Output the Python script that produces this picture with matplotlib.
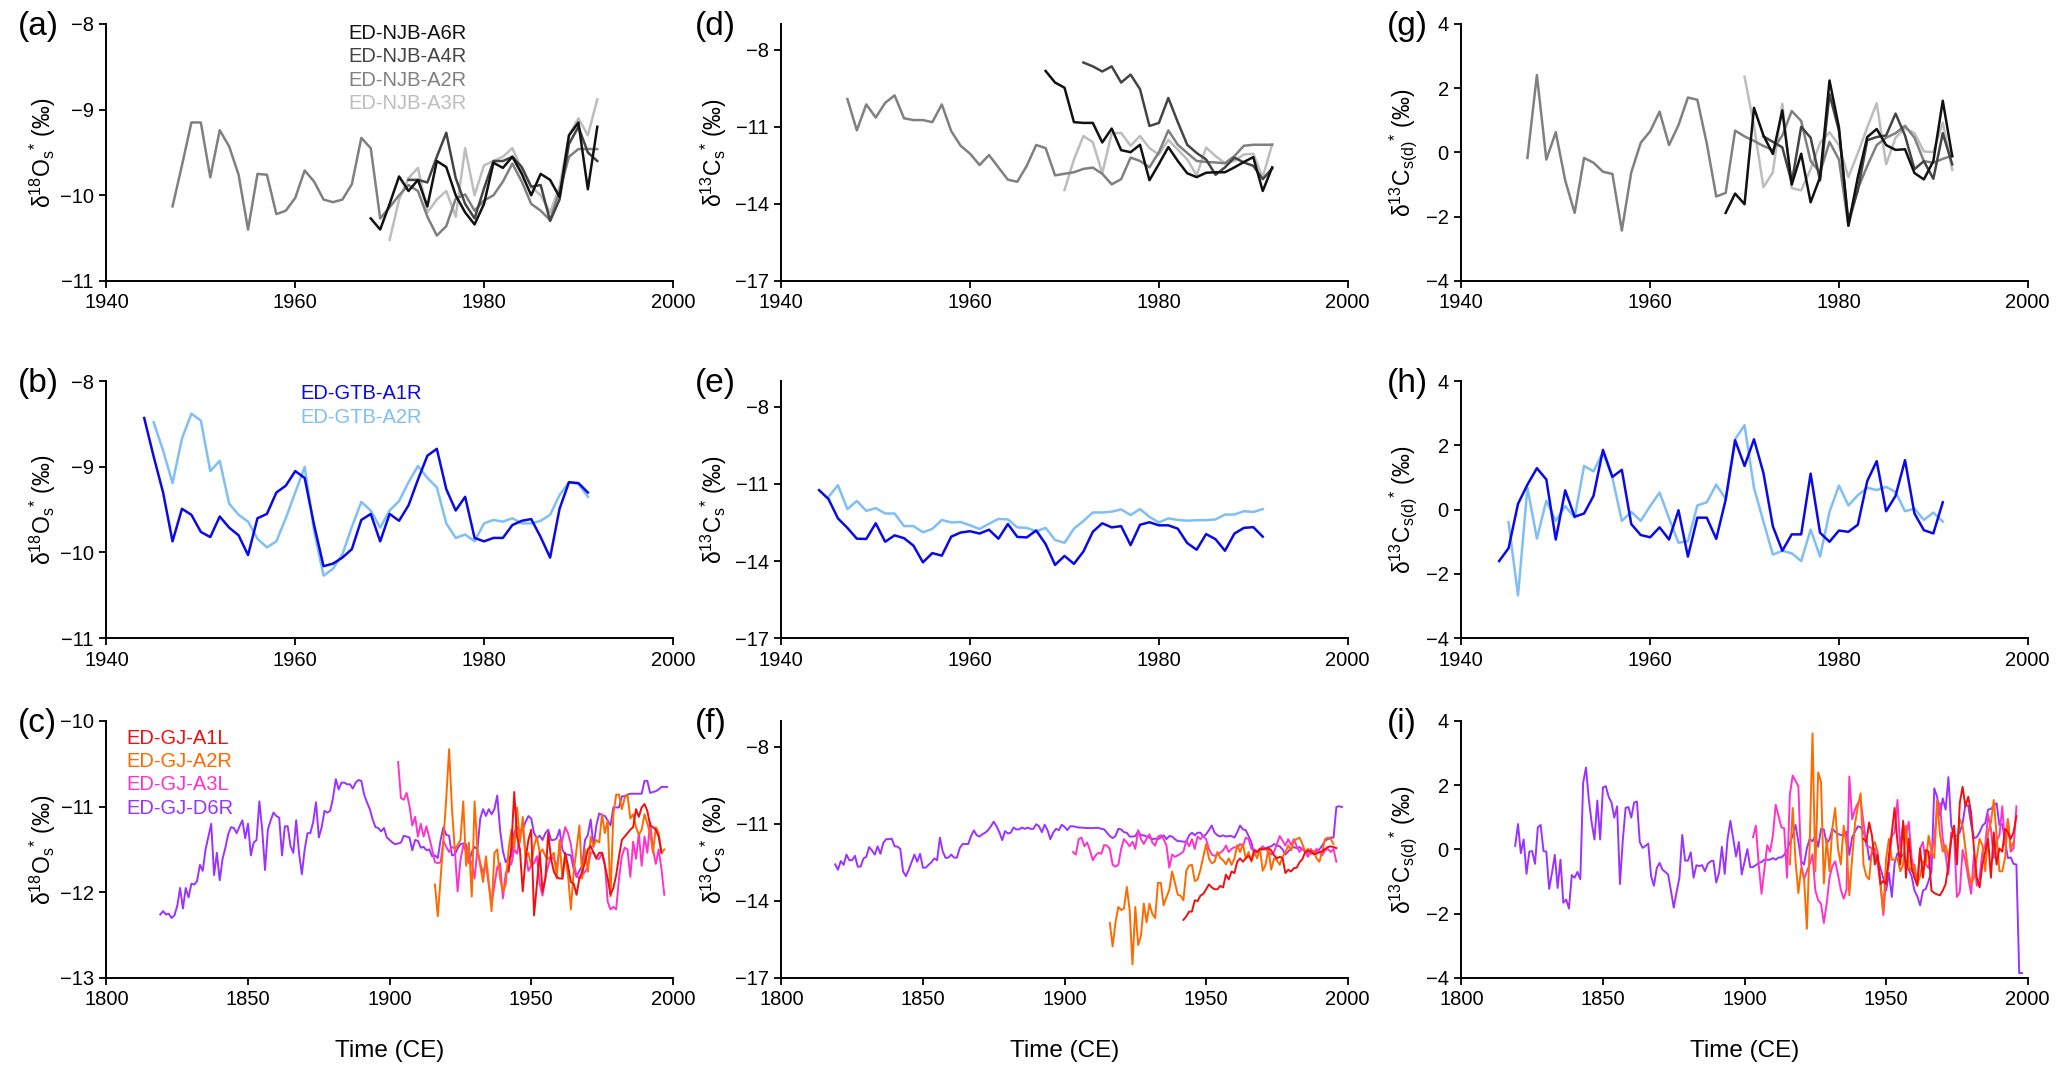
import numpy as np
import matplotlib
matplotlib.use("Agg")
import matplotlib.pyplot as plt

plt.rcParams.update({
    "font.family": ["Liberation Sans", "DejaVu Sans"],
    "mathtext.fontset": "custom",
    "mathtext.rm": "Liberation Sans",
    "mathtext.it": "Liberation Sans:italic",
    "mathtext.bf": "Liberation Sans:bold",
})

# ---- NJB site (row 1), annual values, first year given separately ----
njb_a6r_start, njb_a4r_start, njb_a2r_start, njb_a3r_start = 1968, 1972, 1947, 1970

njb_a2r_o18 = [-10.13, -9.65, -9.15, -9.15, -9.79, -9.24, -9.43, -9.76, -10.40, -9.75,
               -9.76, -10.22, -10.18, -10.03, -9.71, -9.84, -10.05, -10.08, -10.05, -9.87,
               -9.33, -9.45, -10.27, -10.14, -10.0, -9.88, -9.95, -10.25, -10.47, -10.36,
               -10.04, -9.99, -10.18, -10.06, -10.0, -9.84, -9.63, -9.84, -10.10, -10.18,
               -10.29, -9.95, -9.55, -9.46, -9.46, -9.46]
njb_a6r_o18 = [-10.27, -10.40, -10.1, -9.78, -9.95, -9.82, -10.13, -9.6, -9.67, -10.0,
               -10.2, -10.34, -10.1, -9.62, -9.68, -9.55, -9.75, -10.0, -9.75, -9.82,
               -10.02, -9.3, -9.15, -9.93, -9.2]
njb_a4r_o18 = [-9.82, -9.82, -9.85, -9.55, -9.27, -9.8, -10.1, -10.27, -9.92, -9.6,
               -9.6, -9.55, -9.67, -9.9, -9.88, -10.3, -10.05, -9.4, -9.2, -9.5, -9.6]
njb_a3r_o18 = [-10.52, -10.05, -9.8, -9.68, -10.2, -10.05, -9.95, -10.25, -9.45, -10.0,
               -9.65, -9.6, -9.55, -9.45, -9.7, -9.9, -10.0, -10.2, -9.9, -9.3,
               -9.1, -9.3, -8.88]

njb_a2r_c13 = [-9.92, -11.14, -10.13, -10.64, -10.07, -9.78, -10.67, -10.74, -10.74, -10.82,
               -10.13, -11.17, -11.74, -12.05, -12.49, -12.10, -12.58, -13.06, -13.14, -12.52,
               -11.71, -11.83, -12.89, -12.83, -12.77, -12.64, -12.59, -12.83, -13.24, -13.04,
               -12.20, -12.33, -12.58, -11.99, -11.14, -11.70, -12.02, -12.33, -12.37, -12.39,
               -12.42, -12.14, -11.74, -11.70, -11.70, -11.70]
njb_a3r_c13 = [-13.46, -12.27, -11.36, -11.60, -12.81, -11.26, -11.24, -11.74, -11.36, -11.83,
               -12.08, -11.51, -11.89, -12.27, -12.89, -11.81, -12.14, -12.42, -12.33, -12.08,
               -12.05, -12.96, -11.68]
njb_a6r_c13 = [-8.83, -9.28, -9.48, -10.82, -10.85, -10.85, -11.61, -11.07, -11.91, -11.99,
               -11.70, -13.08, -12.45, -11.79, -12.33, -12.81, -12.96, -12.79, -12.77, -12.77,
               -12.58, -12.37, -12.18, -13.50, -12.58]
njb_a4r_c13 = [-8.50, -8.65, -8.85, -8.65, -9.28, -8.97, -9.54, -10.97, -10.85, -9.88,
               -10.82, -11.70, -12.02, -12.27, -12.87, -12.58, -12.20, -12.39, -12.52, -13.04,
               -12.62]

njb_a2r_c13d = [-0.17, 2.41, -0.22, 0.63, -0.87, -1.88, -0.17, -0.32, -0.60, -0.67,
                -2.43, -0.62, 0.30, 0.66, 1.27, 0.23, 0.85, 1.71, 1.64, 0.28,
                -1.37, -1.26, 0.68, 0.50, 0.36, 0.20, 0.08, 0.53, 1.29, 0.98,
                -0.27, -0.62, 0.33, -0.22, -2.28, -1.13, -0.42, 0.23, 0.46, 0.60,
                0.83, 0.46, -0.27, -0.32, -0.20, -0.10]
njb_a3r_c13d = [2.36, 0.83, -1.08, -0.62, 1.51, -1.11, -1.18, -0.52, 0.30, 0.63,
                0.23, -0.77, -0.02, 0.78, 1.53, -0.37, 0.46, 0.76, 0.60, 0.03,
                0.01, 0.93, -0.54]
njb_a6r_c13d = [-1.88, -1.28, -1.61, 1.39, 0.53, -0.05, 1.31, -1.0, -0.04, -1.55,
                -0.77, 2.24, 0.78, -2.28, -0.77, 0.48, 0.73, 0.23, 0.08, 0.10,
                -0.64, -0.84, -0.27, 1.61, -0.12]
njb_a4r_c13d = [0.50, 0.33, 0.16, -0.94, 0.80, 0.46, -0.87, 1.81, 0.68, -2.13,
                -1.18, 0.38, 0.48, 0.53, 1.21, 0.53, -0.52, -0.27, -0.82, 0.60, -0.37]

# ---- GTB site (row 2) ----
gtb_a1r_start, gtb_a2r_start = 1944, 1945

gtb_a1r_o18 = [-8.43, -8.88, -9.30, -9.87, -9.49, -9.56, -9.76, -9.82, -9.58, -9.71,
               -9.80, -10.03, -9.60, -9.55, -9.30, -9.22, -9.05, -9.13, -9.68, -10.16,
               -10.13, -10.06, -9.96, -9.62, -9.55, -9.87, -9.55, -9.63, -9.45, -9.15,
               -8.87, -8.79, -9.26, -9.51, -9.35, -9.83, -9.87, -9.83, -9.83, -9.68,
               -9.63, -9.61, -9.82, -10.06, -9.49, -9.18, -9.19, -9.30]
gtb_a2r_o18 = [-8.48, -8.81, -9.19, -8.67, -8.38, -8.46, -9.05, -8.93, -9.43, -9.56,
               -9.64, -9.84, -9.94, -9.87, -9.60, -9.30, -9.0, -9.75, -10.27, -10.19,
               -10.02, -9.70, -9.41, -9.51, -9.71, -9.51, -9.40, -9.18, -8.99, -9.13,
               -9.24, -9.66, -9.83, -9.79, -9.87, -9.66, -9.62, -9.64, -9.60, -9.66,
               -9.66, -9.63, -9.56, -9.33, -9.18, -9.20, -9.35]

gtb_a1r_c13 = [-11.24, -11.59, -12.34, -12.71, -13.13, -13.14, -12.53, -13.25, -13.0, -13.11,
               -13.40, -14.05, -13.69, -13.79, -13.05, -12.89, -12.84, -12.93, -12.78, -13.13,
               -12.56, -13.06, -13.08, -12.81, -13.34, -14.15, -13.80, -14.11, -13.63, -12.86,
               -12.53, -12.69, -12.64, -13.38, -12.59, -12.49, -12.61, -12.61, -12.74, -13.30,
               -13.56, -12.95, -13.15, -13.60, -12.93, -12.71, -12.68, -13.05]
gtb_a2r_c13 = [-11.5, -11.05, -11.98, -11.66, -12.05, -11.94, -12.15, -12.15, -12.64, -12.64,
               -12.88, -12.75, -12.40, -12.50, -12.48, -12.61, -12.75, -12.55, -12.36, -12.38,
               -12.69, -12.71, -12.84, -12.71, -13.18, -13.29, -12.74, -12.44, -12.11, -12.11,
               -12.08, -11.99, -12.21, -11.98, -12.28, -12.50, -12.34, -12.40, -12.43, -12.41,
               -12.41, -12.38, -12.19, -12.19, -12.06, -12.09, -11.98]

gtb_a1r_c13d = [-1.60, -1.20, 0.18, 0.78, 1.29, 0.94, -0.93, 0.60, -0.22, -0.12,
                0.43, 1.86, 1.02, 1.24, -0.45, -0.79, -0.86, -0.55, -0.93, -0.02,
                -1.46, -0.25, -0.25, -0.91, 0.31, 2.16, 1.36, 2.19, 1.14, -0.52,
                -1.28, -0.77, -0.77, 1.12, -0.72, -1.0, -0.65, -0.69, -0.47, 0.89,
                1.51, -0.05, 0.43, 1.54, -0.12, -0.64, -0.74, 0.23]
gtb_a2r_c13d = [-0.39, -2.67, 0.68, -0.90, 0.28, -0.35, 0.11, -0.25, 1.36, 1.19,
                1.79, 0.99, -0.35, -0.07, -0.35, 0.11, 0.53, -0.27, -1.03, -0.98,
                0.13, 0.23, 0.78, 0.33, 2.19, 2.63, 0.68, -0.37, -1.40, -1.28,
                -1.36, -1.60, -0.62, -1.46, -0.07, 0.75, 0.13, 0.45, 0.68, 0.61,
                0.71, 0.55, -0.05, 0.03, -0.32, -0.09, -0.37]

# ---- GJ site (row 3) ----
gj_a1l_start, gj_a2r_start, gj_a3l_start, gj_d6r_start = 1942, 1916, 1903, 1819

gj_d6r_o18 = [-12.26, -12.22, -12.26, -12.25, -12.30, -12.27, -12.16, -11.95, -12.19, -11.95,
              -12.06, -11.90, -11.91, -11.87, -11.68, -11.75, -11.50, -11.35, -11.20, -11.80,
              -11.54, -11.86, -11.61, -11.48, -11.32, -11.24, -11.25, -11.31, -11.23, -11.16,
              -11.37, -11.20, -11.57, -11.42, -11.39, -10.94, -11.27, -11.74, -11.27, -11.16,
              -11.07, -11.11, -11.13, -11.57, -11.23, -11.23, -11.46, -11.54, -11.16, -11.54,
              -11.79, -11.50, -11.31, -11.31, -11.18, -10.95, -11.36, -11.24, -11.05, -11.07,
              -11.05, -10.90, -10.68, -10.80, -10.72, -10.72, -10.74, -10.74, -10.79, -10.72,
              -10.69, -10.70, -10.86, -10.95, -11.03, -11.15, -11.24, -11.25, -11.29, -11.25,
              -11.36, -11.39, -11.42, -11.44, -11.43, -11.42, -11.34, -11.35, -11.36, -11.51,
              -11.39, -11.40, -11.48, -11.47, -11.51, -11.50, -11.58, -11.57, -11.60, -11.39,
              -11.24, -11.33, -11.34, -11.57, -11.56, -11.49, -11.44, -11.43, -11.44, -11.66,
              -11.53, -11.47, -11.50, -11.14, -11.03, -11.11, -11.03, -11.09, -11.03, -10.87,
              -11.27, -11.52, -11.65, -11.60, -11.58, -11.30, -11.24, -11.28, -11.27, -11.18,
              -11.11, -11.14, -11.31, -11.37, -11.34, -11.39, -11.31, -11.27, -11.39, -11.39,
              -11.37, -11.27, -11.50, -11.56, -11.56, -11.57, -11.73, -11.82, -11.75, -11.69,
              -11.39, -11.33, -11.15, -11.47, -11.22, -11.08, -11.10, -11.11, -11.16, -11.22,
              -11.01, -11.01, -11.01, -10.88, -10.88, -10.86, -10.85, -10.85, -10.85, -10.85,
              -10.85, -10.70, -10.70, -10.84, -10.83, -10.82, -10.80, -10.77, -10.77, -10.77]
gj_a3l_o18 = [-10.48, -10.90, -10.92, -10.84, -10.99, -11.22, -11.12, -11.35, -11.20, -11.35,
              -11.23, -11.36, -11.50, -11.65, -11.66, -11.65, -11.40, -11.47, -11.53, -11.47,
              -11.49, -11.99, -11.63, -11.45, -11.52, -11.66, -11.64, -11.84, -11.50, -11.66,
              -11.77, -11.67, -11.91, -12.14, -11.92, -11.71, -11.66, -12.07, -11.78, -11.69,
              -11.67, -11.50, -11.55, -11.31, -11.24, -11.54, -11.75, -11.69, -11.66, -11.58,
              -11.90, -12.04, -11.82, -11.69, -11.58, -11.61, -11.70, -11.52, -11.39, -11.24,
              -11.31, -11.44, -11.66, -11.80, -11.84, -11.80, -11.76, -11.71, -11.54, -11.53,
              -11.61, -11.61, -11.54, -11.66, -12.11, -12.20, -12.17, -12.20, -11.84, -11.58,
              -11.48, -11.50, -11.82, -11.41, -11.61, -11.31, -11.69, -11.35, -11.54, -11.18,
              -11.50, -11.67, -11.50, -11.73, -12.03]
gj_a2r_o18 = [-11.91, -12.28, -11.84, -11.39, -10.90, -10.33, -11.02, -11.50, -11.45, -11.39,
              -10.94, -11.69, -11.42, -12.05, -10.94, -11.50, -11.69, -11.88, -11.58, -11.88,
              -12.22, -11.54, -11.50, -11.84, -11.99, -11.91, -11.50, -11.27, -11.50, -11.01,
              -11.42, -11.12, -11.61, -11.54, -11.69, -11.46, -11.35, -11.54, -11.50, -11.58,
              -11.61, -11.58, -11.54, -11.84, -11.39, -11.84, -11.58, -11.80, -12.20, -11.76,
              -11.50, -11.22, -11.84, -11.50, -11.76, -11.35, -11.46, -11.39, -11.42, -11.09,
              -11.31, -11.16, -12.05, -11.09, -10.86, -10.86, -11.03, -10.90, -10.86, -11.14,
              -11.09, -11.24, -11.33, -11.27, -11.09, -11.20, -11.31, -11.54, -11.24, -11.31,
              -11.54, -11.50]
gj_a1l_o18 = [-11.76, -11.46, -10.83, -11.35, -11.50, -11.99, -11.61, -11.39, -11.27, -12.27,
              -11.91, -11.54, -11.99, -11.84, -11.31, -11.61, -11.76, -11.82, -11.84, -11.84,
              -11.54, -11.69, -11.88, -11.90, -12.03, -11.84, -11.76, -11.65, -11.50, -11.46,
              -11.54, -11.60, -11.54, -11.54, -11.69, -11.84, -12.03, -11.95, -11.80, -11.58,
              -11.39, -11.35, -11.31, -11.27, -11.24, -11.03, -11.12, -11.01, -10.97, -11.05,
              -11.22, -11.24, -11.27, -11.35, -11.54]

gj_d6r_c13 = [-12.58, -12.79, -12.45, -12.60, -12.20, -12.42, -12.42, -12.25, -12.67, -12.67,
              -12.35, -12.29, -11.91, -12.04, -12.20, -11.88, -12.17, -11.75, -11.60, -11.60,
              -11.58, -11.88, -11.89, -11.98, -12.86, -13.04, -12.79, -12.50, -12.20, -12.48,
              -12.17, -12.71, -12.71, -12.60, -12.50, -12.35, -12.42, -11.54, -12.08, -12.33,
              -12.32, -12.20, -12.32, -12.32, -11.95, -11.79, -11.79, -11.79, -11.48, -11.26,
              -11.45, -11.50, -11.41, -11.35, -11.25, -11.10, -10.92, -11.10, -11.33, -11.64,
              -11.29, -11.38, -11.35, -11.15, -11.22, -11.22, -11.15, -11.20, -11.15, -11.20,
              -11.20, -11.02, -11.10, -11.33, -11.04, -11.25, -11.60, -11.35, -11.20, -11.25,
              -11.04, -11.12, -11.25, -11.10, -11.10, -11.12, -11.15, -11.15, -11.16, -11.17,
              -11.17, -11.17, -11.16, -11.16, -11.20, -11.22, -11.35, -11.48, -11.56, -11.48,
              -11.20, -11.22, -11.33, -11.35, -11.50, -11.50, -11.48, -11.29, -11.45, -11.45,
              -11.50, -11.54, -11.60, -11.58, -11.60, -11.54, -11.45, -11.60, -11.48, -11.50,
              -11.60, -11.68, -11.68, -11.70, -11.70, -11.45, -11.35, -11.45, -11.35, -11.35,
              -11.50, -11.41, -11.25, -11.07, -11.35, -11.45, -11.50, -11.45, -11.50, -11.48,
              -11.48, -11.54, -11.33, -11.07, -11.22, -11.25, -11.48, -11.73, -12.20, -12.08,
              -12.04, -11.98, -11.95, -11.91, -11.88, -11.79, -11.85, -11.88, -12.0, -12.20,
              -12.08, -11.95, -11.91, -11.95, -11.91, -12.0, -12.08, -12.13, -12.17, -12.13,
              -12.08, -12.0, -11.85, -11.66, -11.60, -11.54, -11.54, -10.35, -10.32, -10.35]
gj_a3l_c13 = [-12.10, -12.20, -11.60, -11.54, -11.88, -11.73, -12.04, -12.42, -12.23, -12.13,
              -12.17, -11.83, -11.85, -11.98, -12.60, -12.67, -12.60, -11.98, -11.60, -11.73,
              -11.88, -11.70, -11.98, -11.25, -11.60, -11.79, -11.58, -11.41, -11.73, -11.85,
              -11.50, -11.45, -11.60, -11.85, -12.71, -12.20, -12.29, -12.23, -12.17, -12.08,
              -11.66, -11.88, -11.60, -11.98, -11.50, -11.60, -11.48, -11.60, -11.98, -12.20,
              -12.25, -12.20, -12.13, -12.04, -11.85, -12.10, -11.98, -11.91, -11.95, -11.79,
              -11.88, -11.54, -11.60, -11.98, -12.0, -12.08, -11.98, -11.88, -11.98, -12.08,
              -12.20, -12.10, -11.79, -11.48, -11.66, -11.85, -11.60, -11.83, -11.60, -11.88,
              -12.10, -11.95, -12.08, -12.29, -11.98, -12.20, -11.98, -12.10, -12.23, -12.04,
              -11.98, -12.10, -11.98, -12.48]
gj_a2r_c13 = [-14.86, -15.77, -14.84, -14.24, -14.36, -14.30, -13.46, -14.36, -16.47, -14.24,
              -15.72, -15.37, -14.11, -14.84, -14.11, -14.51, -14.67, -13.30, -13.30, -14.17,
              -13.86, -13.58, -12.86, -13.30, -13.76, -13.80, -13.98, -12.83, -12.63, -12.60,
              -13.23, -13.17, -12.79, -12.29, -11.79, -12.35, -12.54, -12.48, -12.10, -12.33,
              -12.42, -12.58, -12.35, -12.60, -12.35, -11.83, -12.10, -11.79, -12.35, -12.10,
              -12.48, -12.10, -12.35, -11.98, -12.83, -12.60, -11.98, -12.79, -12.35, -12.42,
              -12.60, -12.29, -12.10, -11.85, -12.04, -11.66, -11.60, -11.54, -11.79, -12.10,
              -11.98, -12.17, -12.04, -12.35, -12.48, -12.08, -11.60, -11.54, -11.60, -11.79]
gj_a1l_c13 = [-14.74, -14.61, -14.42, -14.42, -13.98, -14.01, -13.80, -13.73, -13.55, -13.36,
              -13.48, -13.55, -13.55, -13.42, -13.48, -12.98, -13.17, -12.86, -12.92, -12.48,
              -12.35, -12.48, -12.35, -12.25, -12.42, -12.04, -12.10, -11.98, -12.0, -11.98,
              -11.95, -12.04, -12.23, -12.35, -12.29, -12.33, -12.92, -12.79, -12.86, -12.73,
              -12.71, -12.50, -12.38, -12.10, -12.04, -12.08, -12.17, -12.17, -12.10, -12.08,
              -11.98, -11.91, -11.88, -11.91, -11.95]

gj_d6r_c13d = [0.11, 0.79, -0.12, 0.31, -0.76, -0.07, -0.05, -0.45, 0.69, 0.76,
               -0.05, -0.07, -1.23, -0.73, -0.17, -1.20, -0.32, -1.66, -1.56, -1.84,
               -0.80, -0.88, -0.70, -0.93, 2.07, 2.55, 1.56, 0.84, 0.31, 1.52,
               0.31, 1.93, 1.97, 1.64, 1.46, 0.99, 1.34, -1.08, 0.28, 1.29,
               1.32, 0.99, 1.46, 1.49, 0.23, 0.05, 0.11, 0.18, -0.83, -1.13,
               -0.58, -0.42, -0.63, -0.70, -0.78, -1.28, -1.81, -1.33, -0.88, 0.45,
               -0.35, -0.35, -0.09, -0.88, -0.49, -0.52, -0.49, -0.68, -0.45, -0.37,
               -0.35, -1.03, -0.73, 0.08, -0.76, 0.33, 0.89, 0.33, -0.22, 0.23,
               -0.78, -0.39, 0.01, -0.55, -0.55, -0.49, -0.42, -0.39, -0.32, -0.32,
               -0.32, -0.27, -0.32, -0.25, -0.25, -0.17, -0.02, 0.21, 0.43, 0.76,
               0.25, -0.37, -0.47, 0.03, 0.33, 0.25, 0.43, 0.08, 0.64, 0.62,
               0.18, 0.31, 0.64, 0.55, 0.48, 0.45, 0.43, 0.55, -0.17, 0.38,
               0.55, 0.72, 0.69, 0.53, 0.33, -0.32, -0.12, -0.17, -0.32, -0.58,
               -0.90, -1.28, -0.73, -1.48, -0.42, -0.12, -0.27, -0.15, -0.39, -0.63,
               -0.83, -1.28, -1.46, -1.74, -1.28, -1.23, -0.98, -0.68, 1.90, 1.64,
               1.06, 1.59, 1.24, 2.25, 0.74, 0.41, 0.43, 0.53, 0.82, 1.39,
               1.36, 0.79, 0.35, 0.38, 0.53, 0.74, 0.82, 1.24, 1.26, 1.36,
               1.44, 0.76, 0.79, 0.23, -0.27, -0.25, -0.45, -0.47, -3.85, -3.85]
gj_a3l_c13d = [0.38, 0.74, -0.47, -1.38, -0.63, 0.13, -0.07, 0.43, 1.39, 1.04,
               0.69, 0.66, -0.88, 1.70, 2.30, 2.13, 1.97, -0.47, -0.93, -0.68,
               -0.47, -0.15, -1.28, -1.58, -1.69, -2.29, -1.69, -0.88, -0.52, -0.37,
               -0.78, -1.26, -1.53, -1.26, 2.27, 0.94, 1.24, 1.44, 1.52, 0.84,
               0.11, 0.08, 0.03, 0.03, -0.47, -1.08, -2.04, -0.88, -0.47, 0.43,
               0.53, 1.54, 0.03, 0.79, 0.43, 0.86, -0.27, -0.68, -1.08, 0.03,
               0.23, -0.47, -0.58, -0.07, 0.33, 1.24, 1.44, 0.33, -0.17, -0.78,
               0.53, 0.43, -1.48, -1.33, -0.02, -0.37, -0.88, -1.38, -0.17, -1.13,
               -0.88, -0.07, 0.13, 1.09, 0.64, -0.27, 0.28, 0.43, 1.34, 0.13,
               0.94, -0.07, 0.03, 1.34]
gj_a2r_c13d = [-0.47, 1.29, -0.37, -1.36, -0.58, -0.88, -2.47, 0.13, 3.61, -0.68,
               2.40, 2.10, -1.06, 0.33, -0.68, 0.66, 1.29, 0.03, -0.47, 0.74,
               0.13, -1.43, -0.27, 0.79, 1.34, 1.75, -0.47, -0.83, -0.93, 0.03,
               0.23, -0.07, -1.08, -1.94, -0.27, 0.33, -0.32, -0.32, -0.27, -0.68,
               -0.47, 0.74, -0.55, -0.68, -0.47, -1.08, -0.83, -0.37, -0.47, 0.43,
               -0.07, -0.27, 1.54, 0.48, -0.07, 0.13, -0.27, 0.33, 0.53, 0.13,
               0.94, 0.74, 0.03, -0.68, -1.08, -0.88, -0.27, 0.33, 0.13, -0.68,
               0.53, 0.84, 1.54, 0.43, -0.68, -0.68, -0.27, 0.94, 0.03, 0.23]
gj_a1l_c13d = [0.33, 0.23, 0.84, 0.43, -0.47, -0.17, -1.08, -0.98, -1.08, -0.17,
               0.53, 1.29, 0.23, -0.47, 0.89, -0.88, 0.33, -0.58, -0.88, -1.13,
               0.03, -0.88, -0.02, -0.07, -1.28, -1.36, -1.40, -1.43, -1.28, -1.08,
               -0.47, 0.33, 0.74, -0.47, 1.44, 1.95, 1.34, 1.64, 1.14, 0.03,
               -0.88, -1.18, -0.47, -0.07, 0.33, -0.88, 0.53, -0.47, 0.03, -0.07,
               0.64, 0.53, 0.33, 0.53, 1.04]

njb_names = ["ED-NJB-A6R", "ED-NJB-A4R", "ED-NJB-A2R", "ED-NJB-A3R"]
gtb_names = ["ED-GTB-A1R", "ED-GTB-A2R"]
gj_names = ["ED-GJ-A1L", "ED-GJ-A2R", "ED-GJ-A3L", "ED-GJ-D6R"]

njb_colors = ["#111111", "#444444", "#808080", "#bdbdbd"]
gtb_colors = ["#0a0ae6", "#80bff5"]
gj_colors = ["#f01010", "#ff6a00", "#ff33cc", "#9a33ff"]


def years(start, vals):
    return np.arange(start, start + len(vals))


fig = plt.figure(figsize=(20.67, 10.89), dpi=100)

col_left = [0.0515, 0.378, 0.707]
col_w = 0.274
row_bottom = [0.742, 0.414, 0.102]
row_h = 0.236

ylabels = ["δ$^{18}$O$_{\\mathrm{s}}$$^{*}$ (‰)",
           "δ$^{13}$C$_{\\mathrm{s}}$$^{*}$ (‰)",
           "δ$^{13}$C$_{\\mathrm{s(d)}}$$^{*}$ (‰)"]
letters = [["(a)", "(b)", "(c)"], ["(d)", "(e)", "(f)"], ["(g)", "(h)", "(i)"]]
letter_dx = [-0.043, -0.042, -0.036]
ylabel_x = [-0.085, -0.092, -0.074]

axes = {}
for c in range(3):
    for r in range(3):
        ax = fig.add_axes([col_left[c], row_bottom[r], col_w, row_h])
        axes[(r, c)] = ax
        for s in ("top", "right"):
            ax.spines[s].set_visible(False)
        for s in ("left", "bottom"):
            ax.spines[s].set_linewidth(1.4)
        ax.tick_params(direction="out", length=5, width=1.3, labelsize=14.5, pad=4)
        if r < 2:
            ax.set_xlim(1940, 2000)
            ax.set_xticks([1940, 1960, 1980, 2000])
        else:
            ax.set_xlim(1800, 2000)
            ax.set_xticks([1800, 1850, 1900, 1950, 2000])
            ax.set_xlabel("Time (CE)", fontsize=17.5, labelpad=22)
        if c == 0:
            if r < 2:
                ax.set_ylim(-11, -8)
                ax.set_yticks([-11, -10, -9, -8])
            else:
                ax.set_ylim(-13, -10)
                ax.set_yticks([-13, -12, -11, -10])
        elif c == 1:
            ax.set_ylim(-17, -7)
            ax.set_yticks([-17, -14, -11, -8])
        else:
            ax.set_ylim(-4, 4)
            ax.set_yticks([-4, -2, 0, 2, 4])
        ax.set_ylabel(ylabels[c], fontsize=16.5)
        ax.yaxis.set_label_coords(ylabel_x[c], 0.5)
        fig.text(col_left[c] + letter_dx[c], row_bottom[r] + row_h + 0.012,
                 letters[c][r], fontsize=24, va="top", ha="left")

lw1, lw3 = 1.8, 1.4

# row 1: NJB
njb_sets = [
    (njb_a2r_o18, njb_a3r_o18, njb_a4r_o18, njb_a6r_o18),
    (njb_a2r_c13, njb_a3r_c13, njb_a4r_c13, njb_a6r_c13),
    (njb_a2r_c13d, njb_a3r_c13d, njb_a4r_c13d, njb_a6r_c13d),
]
for c, (a2, a3, a4, a6) in enumerate(njb_sets):
    ax = axes[(0, c)]
    ax.plot(years(njb_a3r_start, a3), a3, color=njb_colors[3], lw=lw1)
    ax.plot(years(njb_a2r_start, a2), a2, color=njb_colors[2], lw=lw1)
    ax.plot(years(njb_a4r_start, a4), a4, color=njb_colors[1], lw=lw1)
    ax.plot(years(njb_a6r_start, a6), a6, color=njb_colors[0], lw=lw1)

# row 2: GTB
gtb_sets = [(gtb_a1r_o18, gtb_a2r_o18), (gtb_a1r_c13, gtb_a2r_c13),
            (gtb_a1r_c13d, gtb_a2r_c13d)]
for c, (a1, a2) in enumerate(gtb_sets):
    ax = axes[(1, c)]
    ax.plot(years(gtb_a2r_start, a2), a2, color=gtb_colors[1], lw=lw1)
    ax.plot(years(gtb_a1r_start, a1), a1, color=gtb_colors[0], lw=lw1)

# row 3: GJ
gj_sets = [(gj_d6r_o18, gj_a3l_o18, gj_a2r_o18, gj_a1l_o18),
           (gj_d6r_c13, gj_a3l_c13, gj_a2r_c13, gj_a1l_c13),
           (gj_d6r_c13d, gj_a3l_c13d, gj_a2r_c13d, gj_a1l_c13d)]
for c, (d6, a3, a2, a1) in enumerate(gj_sets):
    ax = axes[(2, c)]
    ax.plot(years(gj_d6r_start, d6), d6, color=gj_colors[3], lw=lw3)
    ax.plot(years(gj_a3l_start, a3), a3, color=gj_colors[2], lw=lw3)
    ax.plot(years(gj_a2r_start, a2), a2, color=gj_colors[1], lw=lw3)
    ax.plot(years(gj_a1l_start, a1), a1, color=gj_colors[0], lw=lw3)

# text legends
for i, (name, col) in enumerate(zip(njb_names, njb_colors)):
    axes[(0, 0)].text(0.427, 0.963 - i * 0.091, name, color=col, fontsize=14.5,
                      va="center", ha="left", transform=axes[(0, 0)].transAxes)
for i, (name, col) in enumerate(zip(gtb_names, gtb_colors)):
    axes[(1, 0)].text(0.342, 0.953 - i * 0.096, name, color=col, fontsize=14.5,
                      va="center", ha="left", transform=axes[(1, 0)].transAxes)
for i, (name, col) in enumerate(zip(gj_names, gj_colors)):
    axes[(2, 0)].text(0.035, 0.933 - i * 0.091, name, color=col, fontsize=14.5,
                      va="center", ha="left", transform=axes[(2, 0)].transAxes)

fig.savefig("out.png", dpi=100)
